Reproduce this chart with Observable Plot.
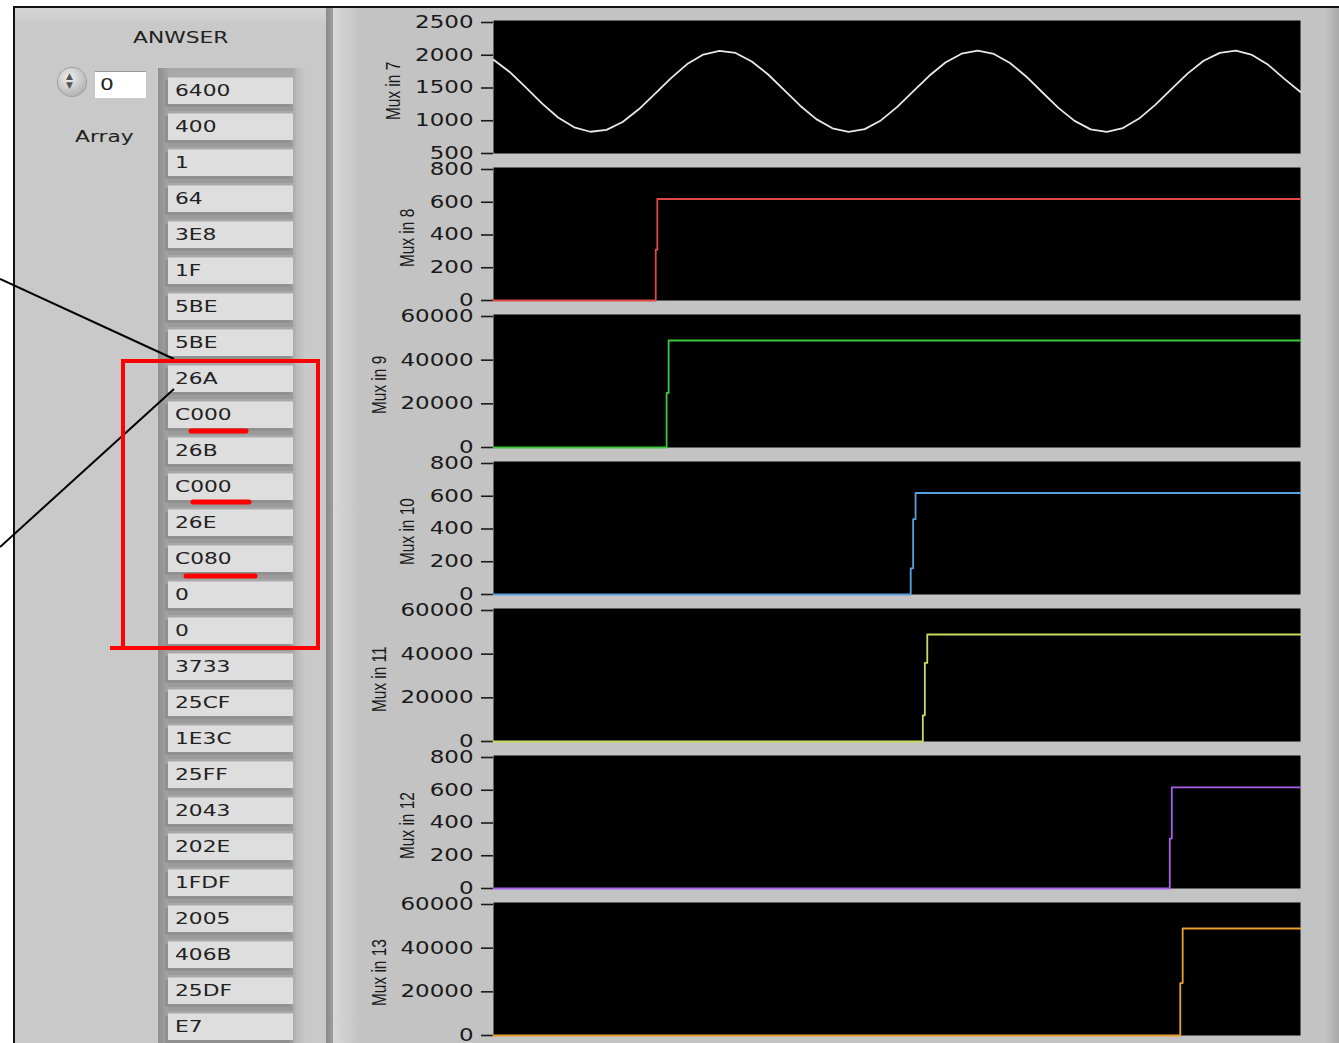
<!DOCTYPE html>
<html><head><meta charset="utf-8">
<script src="https://cdn.jsdelivr.net/npm/d3@7"></script>
<script src="https://cdn.jsdelivr.net/npm/@observablehq/plot@0.6"></script>
<style>
body{margin:0;background:#fff;width:1339px;height:1043px;overflow:hidden;position:relative;font-family:"DejaVu Sans",sans-serif;}
.abs{position:absolute;}
#outer{left:13px;top:6px;width:1326px;height:1037px;border-left:2px solid #111;border-top:2px solid #111;background:#c3c3c3;}
#leftpanel{left:15px;top:8px;width:311px;height:1035px;background:linear-gradient(#d6d6d6 0px,#c9c9c9 16px,#c9c9c9 100%);}
#div1{left:326px;top:8px;width:7px;height:1035px;background:linear-gradient(90deg,#8a8a8a,#9c9c9c);}
#div2{left:333px;top:8px;width:28px;height:1035px;background:linear-gradient(90deg,#d8d8d8,#c3c3c3);}
#rstrip{left:1326px;top:8px;width:13px;height:1035px;background:linear-gradient(90deg,#c3c3c3,#a9a9a9);}
.stx{display:inline-block;transform-origin:left center;transform:scaleX(1.45);white-space:nowrap;color:#222;}
#tray{left:158px;top:68px;width:148px;height:975px;background:linear-gradient(90deg,#8e8e8e 0px,#a8a8a8 12px,#a8a8a8 134px,#bcbcbc 140px,#c9c9c9 148px);}
.cell{position:absolute;left:168px;width:125px;height:26px;background:#dedede;border-top:1px solid #c4c4c4;box-shadow:-3px 3px 0 #909090, 0 7px 0 #9b9b9b;font-size:15px;line-height:26px;}
.cell .stx{margin-left:7px;}
svg.panel{position:absolute;}
</style>
</head><body>
<div id="outer" class="abs"></div>
<div id="leftpanel" class="abs"></div>
<div id="div1" class="abs"></div>
<div id="div2" class="abs"></div>
<div id="rstrip" class="abs"></div>
<div class="abs" style="left:133px;top:29px;font-size:15px;"><span class="stx">ANWSER</span></div>
<div class="abs" style="left:58px;top:68px;width:28px;height:28px;border-radius:50%;background:radial-gradient(circle at 40% 35%,#f0f0f0,#b8b8b8 70%,#8c8c8c);box-shadow:0 0 0 1px #9a9a9a;"></div>
<div class="abs" style="left:66px;top:72px;font-size:9px;color:#555;line-height:9px;">▲<br>▼</div>
<div class="abs" style="left:95px;top:71px;width:51px;height:26px;background:#fff;border-top:1px solid #999;font-size:15px;line-height:26px;"><span class="stx" style="margin-left:5px;">0</span></div>
<div class="abs" style="left:75px;top:128px;font-size:15px;"><span class="stx">Array</span></div>
<div id="tray" class="abs"></div>
<div id="cells"></div>
<div id="charts"></div>
<svg class="abs" style="left:0;top:0;" width="1339" height="1043" id="annot">
  <line x1="0" y1="279" x2="174" y2="359" stroke="#000" stroke-width="2"/>
  <line x1="174" y1="389" x2="0" y2="547" stroke="#000" stroke-width="2"/>
  <rect x="123" y="361" width="195" height="287" fill="none" stroke="#ff0000" stroke-width="4"/>
  <line x1="110" y1="648" x2="124" y2="648" stroke="#ff0000" stroke-width="4"/>
  <line x1="191" y1="431" x2="246" y2="431" stroke="#ff0000" stroke-width="5" stroke-linecap="round"/>
  <line x1="193" y1="502" x2="249" y2="502" stroke="#ff0000" stroke-width="5" stroke-linecap="round"/>
  <line x1="186" y1="576" x2="255" y2="576" stroke="#ff0000" stroke-width="5" stroke-linecap="round"/>
</svg>
<script>
// ---- data ----
const arrayValues = ["6400","400","1","64","3E8","1F","5BE","5BE","26A","C000","26B","C000","26E","C080","0","0","3733","25CF","1E3C","25FF","2043","202E","1FDF","2005","406B","25DF","E7"];

const panelLabels = ["Mux in 7","Mux in 8","Mux in 9","Mux in 10","Mux in 11","Mux in 12","Mux in 13"];
const seriesColors = ["#e8e8e8","#e04848","#3cc83c","#5aa0dc","#c8dc64","#a860e8","#e8a030"];

const sineTicks = [500,1000,1500,2000,2500];
const smallTicks = [0,200,400,600,800];
const bigTicks = [0,20000,40000,60000];

const mux7T = [0,2,4,6,8,10,12,14,16,18,20,22,24,26,28,30,32,34,36,38,40,42,44,46,48,50,52,54,56,58,60,62,64,66,68,70,72,74,76,78,80,82,84,86,88,90,92,94,96,98,100];
const mux7V = [1930,1745,1510,1265,1050,900,832,860,980,1175,1410,1650,1865,2010,2068,2035,1905,1710,1470,1230,1025,885,830,872,1005,1208,1447,1686,1890,2024,2070,2020,1882,1676,1435,1197,998,869,831,888,1033,1242,1483,1720,1915,2037,2069,2004,1854,1640,1440];

const mux8T = [0,20.1,20.1,20.3,20.3,100];
const mux8V = [0,0,310,310,620,620];
const mux9T = [0,21.45,21.45,21.7,21.7,100];
const mux9V = [0,0,25000,25000,49000,49000];
const mux10T = [0,51.7,51.7,52.0,52.0,52.3,52.3,100];
const mux10V = [0,0,160,160,460,460,620,620];
const mux11T = [0,53.2,53.2,53.45,53.45,53.75,53.75,100];
const mux11V = [0,0,12000,12000,36000,36000,49000,49000];
const mux12T = [0,83.8,83.8,84.05,84.05,100];
const mux12V = [0,0,305,305,617,617];
const mux13T = [0,85.1,85.1,85.4,85.4,100];
const mux13V = [0,0,24000,24000,49000,49000];

// ---- left array ----
const cellsDiv = document.getElementById("cells");
arrayValues.forEach((v, i) => {
  const c = document.createElement("div");
  c.className = "cell";
  c.style.top = (77 + 36 * i) + "px";
  c.innerHTML = '<span class="stx">' + v + '</span>';
  cellsDiv.appendChild(c);
});

// ---- charts ----
const series = [
  [mux7T, mux7V, sineTicks],
  [mux8T, mux8V, smallTicks],
  [mux9T, mux9V, bigTicks],
  [mux10T, mux10V, smallTicks],
  [mux11T, mux11V, bigTicks],
  [mux12T, mux12V, smallTicks],
  [mux13T, mux13V, bigTicks]
];
const charts = document.getElementById("charts");
series.forEach(([T, V, ticks], k) => {
  const data = T.map((t, i) => ({t, v: V[i]}));
  const labelDx = ticks === bigTicks ? -114 : ticks === smallTicks ? -86 : -100;
  const labelDy = panelLabels[k].length > 8 ? 37 : 33;
  const svg = Plot.plot({
    width: 960, height: 153,
    marginLeft: 148, marginRight: 5, marginTop: 10, marginBottom: 10,
    style: {background: "transparent", overflow: "visible", color: "#1a1a1a", fontFamily: "DejaVu Sans, sans-serif", fontSize: "17px"},
    x: {domain: [0, 100], axis: null},
    y: {domain: [ticks[0], ticks[ticks.length - 1]], insetTop: 2, label: null, axis: null},
    marks: [
      Plot.frame({fill: "black", stroke: "none"}),
      Plot.axisY({ticks, tickSize: 12, tickPadding: 8, tickFormat: d => String(d), label: null, strokeWidth: 1.6}),
      Plot.line(data, {x: "t", y: "v", stroke: seriesColors[k], strokeWidth: 1.8}),
      Plot.text([panelLabels[k]], {frameAnchor: "left", dx: labelDx, dy: labelDy, rotate: -90, textAnchor: "start", fontFamily: "Liberation Sans, Arial, sans-serif", fontSize: 20, fill: "#1a1a1a"})
    ]
  });
  svg.classList.add("panel");
  svg.style.position = "absolute";
  svg.style.left = "345px";
  svg.style.top = (10 + 147 * k) + "px";
  svg.style.maxWidth = "none";
  charts.appendChild(svg);
  svg.querySelectorAll("text").forEach(t => {
    const L = t.getComputedTextLength();
    if (t.textContent.startsWith("Mux")) {
      t.setAttribute("textLength", (L * 0.77).toFixed(1));
    } else {
      t.setAttribute("textLength", (L * 1.35).toFixed(1));
    }
    t.setAttribute("lengthAdjust", "spacingAndGlyphs");
  });
});
</script>
</body></html>
